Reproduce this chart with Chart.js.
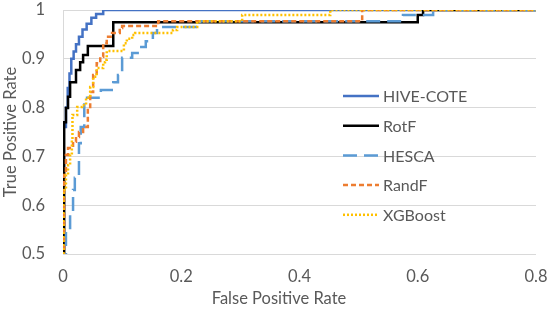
<!DOCTYPE html>
<html><head><meta charset="utf-8">
<script src="https://cdn.jsdelivr.net/npm/chart.js@4/dist/chart.umd.min.js"></script>
<style>html,body{margin:0;padding:0;background:#fff}#wrap{width:548px;height:310px}</style>
</head><body><div id="wrap"><canvas id="c" width="548" height="310"></canvas></div>
<script>
// Series names (legend order)
const seriesNames = ['HIVE-COTE', 'RotF', 'HESCA', 'RandF', 'XGBoost'];

// ROC step corners (false positive rate, true positive rate)
const hiveFpr = [0, 0.005, 0.008, 0.011, 0.014, 0.018, 0.022, 0.027, 0.033, 0.040, 0.048, 0.056, 0.068];
const hiveTpr = [0.76, 0.80, 0.84, 0.87, 0.90, 0.915, 0.93, 0.945, 0.96, 0.972, 0.984, 0.992, 1.0];

const rotfFpr = [0.002, 0.005, 0.0085, 0.012, 0.022, 0.029, 0.034, 0.042, 0.085, 0.600, 0.609];
const rotfTpr = [0.770, 0.799, 0.822, 0.852, 0.877, 0.893, 0.908, 0.926, 0.975, 0.990, 1.0];

const hescaFpr = [0.005, 0.012, 0.017, 0.020, 0.027, 0.030, 0.036, 0.064, 0.085, 0.093, 0.100, 0.117, 0.129, 0.140, 0.152, 0.159, 0.232, 0.575, 0.626];
const hescaTpr = [0.545, 0.580, 0.631, 0.656, 0.727, 0.760, 0.820, 0.836, 0.852, 0.867, 0.902, 0.912, 0.924, 0.936, 0.953, 0.965, 0.977, 0.990, 1.0];

const randfFpr = [0.0017, 0.005, 0.0085, 0.017, 0.022, 0.027, 0.034, 0.042, 0.046, 0.051, 0.057, 0.063, 0.068, 0.074, 0.083, 0.096, 0.100, 0.161, 0.506];
const randfTpr = [0.662, 0.703, 0.717, 0.730, 0.740, 0.750, 0.760, 0.795, 0.832, 0.867, 0.891, 0.904, 0.932, 0.945, 0.953, 0.963, 0.967, 0.977, 1.0];

const xgbFpr = [0.0008, 0.005, 0.0085, 0.012, 0.015, 0.016, 0.024, 0.032, 0.039, 0.046, 0.051, 0.057, 0.068, 0.071, 0.074, 0.103, 0.108, 0.117, 0.122, 0.186, 0.193, 0.227, 0.303, 0.452];
const xgbTpr = [0.631, 0.662, 0.682, 0.703, 0.734, 0.785, 0.801, 0.805, 0.820, 0.842, 0.863, 0.881, 0.893, 0.898, 0.916, 0.932, 0.941, 0.949, 0.953, 0.959, 0.965, 0.977, 0.990, 1.0];

// Axis ticks
const xTicks = [0, 0.2, 0.4, 0.6, 0.8];
const yTicks = [0.5, 0.6, 0.7, 0.8, 0.9, 1];

const xTitle = 'False Positive Rate';
const yTitle = 'True Positive Rate';

// Build staircase path from the step corners
function stairs(fpr, tpr) {
  const pts = [{x: fpr[0], y: 0}, {x: fpr[0], y: tpr[0]}];
  for (let i = 1; i < fpr.length; i++) {
    pts.push({x: fpr[i], y: tpr[i - 1]});
    pts.push({x: fpr[i], y: tpr[i]});
  }
  pts.push({x: 1, y: tpr[tpr.length - 1]});
  return pts;
}

const FONT = 'Lato, "Open Sans", sans-serif';
const TXT = '#595959';
const FS = 16.5;

const styles = [
  {color: '#4472C4', dash: [], width: 2.5},
  {color: '#000000', dash: [], width: 2.5},
  {color: '#5B9BD5', dash: [14, 7], width: 2.5},
  {color: '#ED7D31', dash: [5, 3], width: 2.5},
  {color: '#FFC000', dash: [2, 2], width: 2.5}
];
const seriesData = [
  stairs(hiveFpr, hiveTpr),
  stairs(rotfFpr, rotfTpr),
  stairs(hescaFpr, hescaTpr),
  stairs(randfFpr, randfTpr),
  stairs(xgbFpr, xgbTpr)
];

const datasets = seriesNames.map((name, i) => ({
  label: name,
  data: seriesData[i],
  showLine: true,
  borderColor: styles[i].color,
  backgroundColor: styles[i].color,
  borderDash: styles[i].dash,
  borderWidth: styles[i].width,
  pointRadius: 0,
  fill: false,
  tension: 0,
  order: seriesNames.length - i
}));

const insideLegend = {
  id: 'insideLegend',
  afterDatasetsDraw(chart) {
    const ctx = chart.ctx;
    const x0 = 343, x1 = 379, tx = 383;
    let y = 96;
    const dy = 29.7;
    ctx.save();
    chart.data.datasets.forEach(ds => {
      ctx.beginPath();
      ctx.setLineDash(ds.borderDash || []);
      ctx.lineWidth = ds.borderWidth;
      ctx.strokeStyle = ds.borderColor;
      ctx.moveTo(x0, y);
      ctx.lineTo(x1, y);
      ctx.stroke();
      ctx.setLineDash([]);
      ctx.fillStyle = TXT;
      ctx.font = '16px ' + FONT;
      ctx.textBaseline = 'middle';
      ctx.textAlign = 'left';
      ctx.fillText(ds.label, tx, y + 1);
      y += dy;
    });
    // x axis title (Excel centres it slightly left of the plot centre)
    ctx.fillStyle = TXT;
    ctx.font = FS + 'px ' + FONT;
    ctx.textAlign = 'center';
    ctx.textBaseline = 'middle';
    ctx.fillText(xTitle, 279, 299);
    ctx.restore();
  }
};

new Chart(document.getElementById('c'), {
  type: 'scatter',
  data: {datasets},
  options: {
    responsive: false,
    animation: false,
    events: [],
    layout: {padding: 0},
    plugins: {legend: {display: false}, tooltip: {enabled: false}},
    scales: {
      x: {
        type: 'linear', min: xTicks[0], max: xTicks[xTicks.length - 1],
        afterBuildTicks: s => { s.ticks = xTicks.map(v => ({value: v})); },
        afterFit: s => { s.height = 56; s.paddingRight = 12; s.paddingLeft = 0; s.paddingTop = 0; s.paddingBottom = 0; },
        grid: {display: false, drawTicks: false},
        border: {display: false},
        ticks: {color: TXT, font: {family: FONT, size: FS}, padding: 13, maxRotation: 0,
          callback: v => String(v)},
        title: {display: false}
      },
      y: {
        type: 'linear', min: yTicks[0], max: yTicks[yTicks.length - 1],
        afterBuildTicks: s => { s.ticks = yTicks.map(v => ({value: v})); },
        afterFit: s => { s.width = 63; s.paddingTop = 10; s.paddingBottom = 0; s.paddingLeft = 0; s.paddingRight = 0; },
        grid: {color: '#D9D9D9', lineWidth: 1, drawTicks: false},
        border: {display: true, color: '#D9D9D9', width: 1},
        ticks: {color: TXT, font: {family: FONT, size: FS}, padding: 18,
          callback: v => String(v)},
        title: {display: true, text: yTitle, color: TXT, font: {family: FONT, size: FS}, padding: {top: 1, bottom: 0}}
      }
    }
  },
  plugins: [insideLegend]
});
</script>
</body></html>
